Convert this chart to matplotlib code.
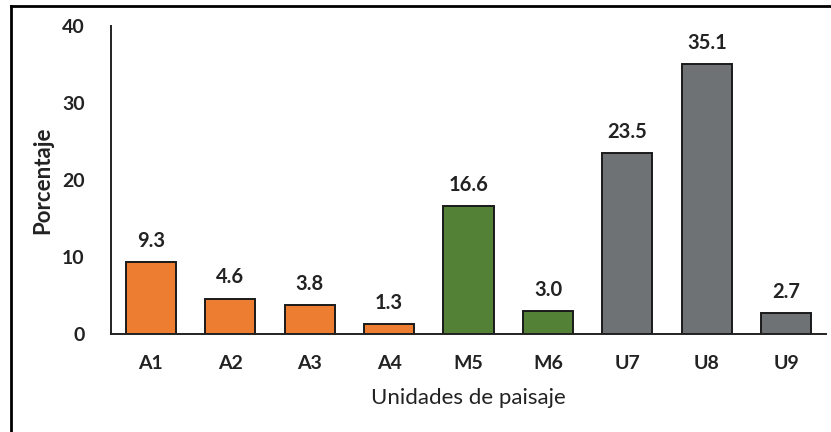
import matplotlib.pyplot as plt
from matplotlib.lines import Line2D

# porcentaje por unidad de paisaje
unidades = ['A1', 'A2', 'A3', 'A4', 'M5', 'M6', 'U7', 'U8', 'U9']
porcentaje = [9.3, 4.6, 3.8, 1.3, 16.6, 3.0, 23.5, 35.1, 2.7]
grupo = ['A', 'A', 'A', 'A', 'M', 'M', 'U', 'U', 'U']
colores = {'A': '#ED7D31', 'M': '#538135', 'U': '#6F7275'}

plt.rcParams['font.family'] = ['Lato', 'DejaVu Sans']

fig = plt.figure(figsize=(8.31, 4.32), dpi=100)
ax = fig.add_axes([0.1336, 0.2269, 0.8604, 0.7129])

x = range(len(unidades))
bars = ax.bar(x, porcentaje, width=0.63, color=[colores[g] for g in grupo],
              edgecolor='#1a1a1a', linewidth=1.4)

for b, v in zip(bars, porcentaje):
    ax.annotate(f'{v:.1f}', (b.get_x() + b.get_width() / 2, v),
                xytext=(0, 8), textcoords='offset points',
                ha='center', va='bottom', fontsize=14.5, fontweight='bold',
                color='#222222')

ax.set_xlim(-0.5, 8.5)
ax.set_ylim(0, 40)
ax.set_yticks([0, 10, 20, 30, 40])
ax.set_xticks(list(x))
ax.set_xticklabels(unidades)
ax.tick_params(axis='both', length=0, labelsize=14, colors='#222222')
ax.tick_params(axis='y', pad=19)
ax.tick_params(axis='x', pad=15)
for lab in ax.get_xticklabels() + ax.get_yticklabels():
    lab.set_fontweight('bold')

for s in ['top', 'right']:
    ax.spines[s].set_visible(False)
ax.spines['left'].set_linewidth(1.4)
ax.spines['bottom'].set_linewidth(1.4)
ax.spines['left'].set_color('#222222')
ax.spines['bottom'].set_color('#222222')

ax.set_xlabel('Unidades de paisaje', fontsize=16, color='#222222', labelpad=12)
ax.set_ylabel('Porcentaje', fontsize=16, fontweight='bold', color='#222222', labelpad=6)

# marco exterior
fig.add_artist(Line2D([11 / 831, 11 / 831], [0, 1 - 6 / 432], transform=fig.transFigure,
                      color='black', linewidth=2))
fig.add_artist(Line2D([11 / 831, 1], [1 - 6 / 432, 1 - 6 / 432], transform=fig.transFigure,
                      color='black', linewidth=2))

fig.savefig('out.png', dpi=100)
plt.close(fig)
